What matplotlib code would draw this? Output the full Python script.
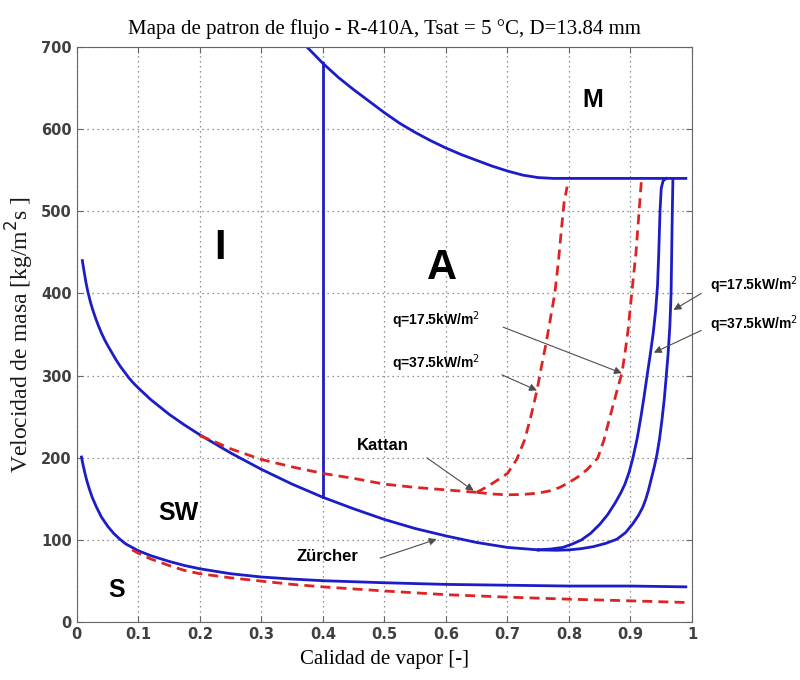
import numpy as np
import matplotlib.pyplot as plt

# Mapa de patron de flujo R-410A (Kattan vs Zurcher)

# frontera I/A - M
xM = [0.374, 0.40, 0.425, 0.45, 0.475, 0.50, 0.525, 0.55, 0.575, 0.60, 0.625, 0.65, 0.675,
      0.70, 0.725, 0.75, 0.775, 0.99]
yM = [700, 680, 663, 648, 634, 620, 607, 596, 586, 577, 569, 562, 555, 549, 544, 541, 540, 540]

# frontera I - A
xIA = [0.40, 0.40]
yIA = [152, 680]

# frontera SW - I/A, tramo comun (Zurcher)
xW = [0.009, 0.012, 0.015, 0.018, 0.022, 0.026, 0.030, 0.035, 0.040, 0.045, 0.050, 0.057,
      0.064, 0.071, 0.078, 0.085, 0.092, 0.10, 0.11, 0.12, 0.135, 0.15, 0.175, 0.20, 0.225,
      0.25, 0.275, 0.30, 0.35, 0.40, 0.45, 0.50, 0.55, 0.60, 0.65, 0.70, 0.75]
yW = [440, 426, 413, 402, 390, 380, 371, 361, 352, 344, 337, 328, 319, 311, 304, 297, 291,
      285, 278, 271, 262, 253, 240, 228, 217, 206, 196, 186, 168, 152, 138, 125, 114, 105,
      97, 91, 88]
# rama q=37.5kW/m2
xW37 = [0.75, 0.77, 0.79, 0.805, 0.82, 0.835, 0.85, 0.863, 0.875, 0.884, 0.891, 0.898, 0.904,
        0.911, 0.917, 0.922, 0.927, 0.932, 0.937, 0.941, 0.944, 0.946, 0.948, 0.950, 0.953, 0.958]
yW37 = [88, 89, 91, 95, 100, 108, 119, 131, 145, 157, 168, 183, 200, 224, 250, 274, 300, 325,
        352, 380, 410, 450, 500, 528, 537, 540]
# rama q=17.5kW/m2
xW17 = [0.75, 0.78, 0.80, 0.82, 0.84, 0.86, 0.878, 0.892, 0.904, 0.913, 0.92, 0.925, 0.929,
        0.934, 0.939, 0.943, 0.947, 0.951, 0.955, 0.958, 0.961, 0.964, 0.966, 0.967, 0.968, 0.969]
yW17 = [88, 87.5, 88, 89.5, 92, 96, 101, 109, 120, 130, 140, 150, 160, 175, 190, 204, 222, 245,
        272, 298, 325, 360, 400, 450, 500, 540]

# frontera S - SW (Zurcher)
xS = [0.0076, 0.010, 0.013, 0.016, 0.02, 0.025, 0.032, 0.04, 0.05, 0.06, 0.07, 0.08, 0.09,
      0.10, 0.12, 0.15, 0.175, 0.20, 0.25, 0.30, 0.35, 0.40, 0.50, 0.60, 0.70, 0.80, 0.90, 0.99]
yS = [201, 192, 182, 173, 163, 152, 140, 128, 117, 108, 101, 95, 91, 87, 81, 74, 69, 65, 59,
      55, 52.5, 50.5, 48, 46, 45, 44, 44, 43]

# Kattan, frontera SW - I/A
xK = [0.20, 0.22, 0.25, 0.30, 0.35, 0.40, 0.45, 0.50, 0.55, 0.60, 0.65]
yK = [227, 221, 211, 198, 189, 181, 175, 168, 164, 161, 158]
xK37 = [0.65, 0.665, 0.68, 0.70, 0.715, 0.728, 0.738, 0.748, 0.755, 0.763, 0.77, 0.777, 0.783,
        0.788, 0.792, 0.797]
yK37 = [158, 164, 171, 181, 198, 222, 250, 282, 310, 340, 370, 400, 440, 480, 510, 530]
xK17 = [0.65, 0.675, 0.70, 0.725, 0.75, 0.77, 0.785, 0.80, 0.815, 0.83, 0.847, 0.857, 0.866,
        0.876, 0.886, 0.891, 0.896, 0.902, 0.909, 0.914, 0.918]
yK17 = [158, 156, 155, 155.5, 157, 160, 164, 170, 177, 186, 200, 222, 248, 276, 303, 327, 355,
        400, 450, 500, 540]

# Kattan, frontera S - SW
xKS = [0.09, 0.10, 0.12, 0.15, 0.175, 0.20, 0.25, 0.30, 0.35, 0.40, 0.50, 0.60, 0.70, 0.80,
       0.90, 0.99]
yKS = [88, 84, 77, 69, 63, 59, 54, 50, 46, 43, 38, 33.5, 30.5, 28, 26, 24]

azul = '#1c1cc8'
rojo = '#dd2424'

fig = plt.figure(figsize=(8, 6.8), dpi=100)
ax = fig.add_axes([0.096, 0.085, 0.769, 0.846])

for x, y in [(xM, yM), (xIA, yIA), (xW, yW), (xW37, yW37), (xW17, yW17), (xS, yS)]:
    ax.plot(x, y, color=azul, lw=2.0)
for x, y in [(xK, yK), (xK37, yK37), (xK17, yK17), (xKS, yKS)]:
    ax.plot(x, y, color=rojo, lw=2.0, ls=(0, (3.6, 2.2)))

ax.set_xlim(0, 1)
ax.set_ylim(0, 700)
ax.set_xticks(np.arange(0, 1.01, 0.1))
ax.set_xticklabels(['0', '0.1', '0.2', '0.3', '0.4', '0.5', '0.6', '0.7', '0.8', '0.9', '1'])
ax.set_yticks(np.arange(0, 701, 100))
ax.grid(True, ls=(0, (1, 3)), color='0.45', lw=0.9)
ax.tick_params(direction='in', top=True, right=True, length=4, color='0.4', labelsize=10.5)
for lab in ax.get_xticklabels() + ax.get_yticklabels():
    lab.set_fontweight('bold')
    lab.set_color('0.25')
for s in ax.spines.values():
    s.set_color('0.4')

ax.set_title('Mapa de patron de flujo - R-410A, Tsat = 5 °C, D=13.84 mm',
             family='Liberation Serif', fontsize=15, pad=9)
ax.set_xlabel('Calidad de vapor [-]', family='Liberation Serif', fontsize=15, labelpad=6)
ax.set_ylabel('Velocidad de masa [kg/m$^2$s ]', family='Liberation Serif', fontsize=17,
              labelpad=4, color='0.1')

# regiones
reg = dict(fontweight='bold', ha='center', va='center', family='Liberation Sans')
ax.text(0.233, 455, 'I', fontsize=30, **reg)
ax.text(0.593, 431, 'A', fontsize=30, **reg)
ax.text(0.839, 635, 'M', fontsize=18, **reg)
ax.text(0.165, 133, 'SW', fontsize=18, **reg)
ax.text(0.065, 39, 'S', fontsize=18, **reg)

# etiquetas y flechas
txt = dict(fontweight='bold', family='Liberation Sans', va='center', ha='left', clip_on=False)
ax.text(0.455, 215, 'Kattan', fontsize=12, **txt)
ax.text(0.357, 80, 'Zürcher', fontsize=12, **txt)
ax.text(0.512, 368, 'q=17.5kW/m$^2$', fontsize=10, **txt)
ax.text(0.512, 315, 'q=37.5kW/m$^2$', fontsize=10, **txt)
ax.text(1.029, 410, 'q=17.5kW/m$^2$', fontsize=10, **txt)
ax.text(1.029, 362, 'q=37.5kW/m$^2$', fontsize=10, **txt)

flecha = dict(arrowstyle='-|>', color='0.3', lw=0.8, mutation_scale=11,
              shrinkA=0, shrinkB=0)
tips = [(0.645, 160), (0.585, 101), (0.886, 303), (0.748, 282), (0.970, 380), (0.938, 328)]
tails = [(0.569, 200), (0.493, 78), (0.693, 359), (0.691, 301), (1.015, 400), (1.015, 355)]
for tip, tail in zip(tips, tails):
    ax.annotate('', xy=tip, xytext=tail, arrowprops=flecha, annotation_clip=False)

fig.savefig('out.png', dpi=100)
